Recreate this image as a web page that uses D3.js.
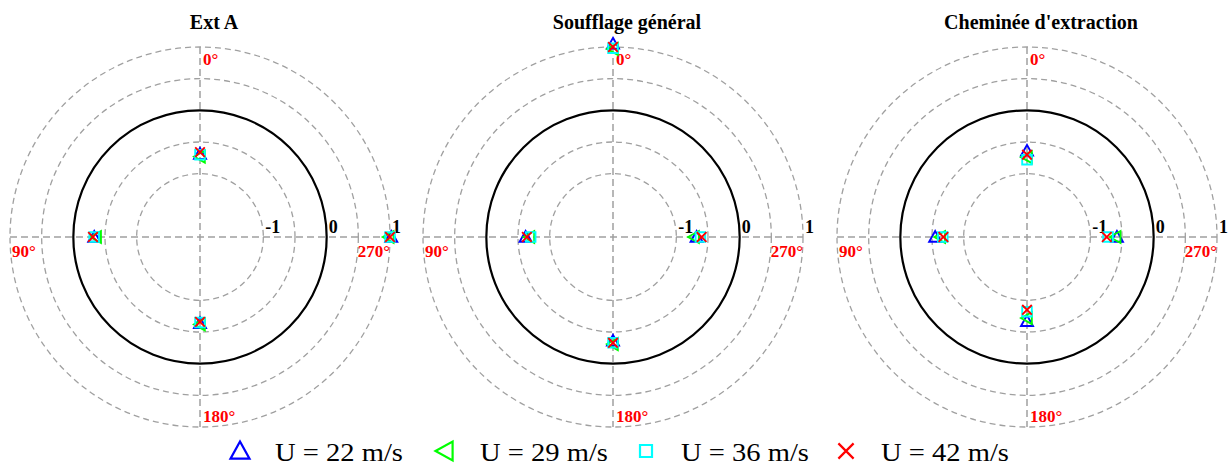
<!DOCTYPE html>
<html>
<head>
<meta charset="utf-8">
<script src="https://cdn.jsdelivr.net/npm/d3@7"></script>
<style>
  html, body { margin: 0; padding: 0; background: #fff; }
  svg { display: block; }
</style>
</head>
<body>
<svg id="chart" width="1229" height="466"></svg>
<script>
// ---------------- DATA ----------------
const panelTitles = ["Ext A", "Soufflage général", "Cheminée d'extraction"];
const angles = [0, 90, 180, 270];               // tap positions (degrees)
const angleLabels = ["0°", "90°", "180°", "270°"];
const seriesNames = ["U = 22 m/s", "U = 29 m/s", "U = 36 m/s", "U = 42 m/s"];
const radialTicks = [-1, 0, 1];
const gridRings = [-1, -0.5, 0, 0.5, 1];

// Cp values at 0°, 90°, 180°, 270°
const extA_22 = [-0.69, -0.33, -0.64, 1.02];
const extA_29 = [-0.73, -0.36, -0.62, 0.98];
const extA_36 = [-0.70, -0.33, -0.65, 1.00];
const extA_42 = [-0.66, -0.31, -0.66, 1.00];

const souf_22 = [1.05, -0.62, -0.36, -0.68];
const souf_29 = [0.97, -0.68, -0.31, -0.72];
const souf_36 = [0.98, -0.70, -0.33, -0.62];
const souf_42 = [1.00, -0.64, -0.33, -0.60];

const chem_22 = [-0.64, -0.55, -0.67, -0.58];
const chem_29 = [-0.74, -0.63, -0.72, -0.60];
const chem_36 = [-0.78, -0.67, -0.82, -0.72];
const chem_42 = [-0.70, -0.68, -0.85, -0.74];

const panelData = [
  [extA_22, extA_29, extA_36, extA_42],
  [souf_22, souf_29, souf_36, souf_42],
  [chem_22, chem_29, chem_36, chem_42]
];

// ---------------- STYLE ----------------
const colors = ["#0000ff", "#00ff00", "#00ffff", "#ff0000"];
const shapes = ["triUp", "triLeft", "square", "cross"];
const centers = [200, 613, 1027];
const cy = 237;
const R = 190;

const svg = d3.select("#chart");
const r = d3.scaleLinear().domain([-2, 1]).range([0, R]);

function markerPath(shape, s) {
  const h = s / 2;
  switch (shape) {
    case "triUp":   return `M0,${-h}L${h},${h*0.8}L${-h},${h*0.8}Z`;
    case "triLeft": return `M${-h},0L${h*0.8},${-h}L${h*0.8},${h}Z`;
    case "square":  return `M${-h*0.8},${-h*0.8}H${h*0.8}V${h*0.8}H${-h*0.8}Z`;
    case "cross":   return `M${-h*0.8},${-h*0.8}L${h*0.8},${h*0.8}M${h*0.8},${-h*0.8}L${-h*0.8},${h*0.8}`;
  }
}

panelData.forEach((series, pi) => {
  const cx = centers[pi];
  const g = svg.append("g").attr("transform", `translate(${cx},${cy})`);

  // grid rings
  g.selectAll("circle.ring").data(gridRings).join("circle")
    .attr("r", d => r(d))
    .attr("fill", "none")
    .attr("stroke", d => d === 0 ? "#000" : "#a0a0a0")
    .attr("stroke-width", d => d === 0 ? 2.2 : 1.3)
    .attr("stroke-dasharray", d => d === 0 ? null : "6,4");

  // crosshair
  g.append("line").attr("x1", 0).attr("x2", 0).attr("y1", -R).attr("y2", R)
    .attr("stroke", "#a0a0a0").attr("stroke-width", 1.5).attr("stroke-dasharray", "7,4");
  g.append("line").attr("y1", 0).attr("y2", 0).attr("x1", -R).attr("x2", R)
    .attr("stroke", "#a0a0a0").attr("stroke-width", 1.5).attr("stroke-dasharray", "7,4");

  // radial tick labels
  g.selectAll("text.rt").data(radialTicks).join("text")
    .attr("x", d => r(d) + 2).attr("y", -4)
    .attr("font-family", "Liberation Serif, Times New Roman, serif")
    .attr("font-weight", "bold").attr("font-size", 18)
    .attr("fill", "#000")
    .text(d => d);

  // angle labels
  const lab = g.append("g")
    .attr("font-family", "Liberation Serif, Times New Roman, serif")
    .attr("font-weight", "bold").attr("font-size", 17).attr("fill", "#ff0000");
  lab.append("text").attr("x", 3).attr("y", -R + 18).text(angleLabels[0]);
  lab.append("text").attr("x", -R + 2).attr("y", 20).text(angleLabels[1]);
  lab.append("text").attr("x", 3).attr("y", R - 5).text(angleLabels[2]);
  lab.append("text").attr("x", R).attr("y", 20).attr("text-anchor", "end").text(angleLabels[3]);

  // markers
  series.forEach((vals, si) => {
    g.append("g").selectAll("path").data(vals.map((v, i) => ({ v, a: angles[i] }))).join("path")
      .attr("transform", d => {
        const t = d.a * Math.PI / 180;
        const rr = r(d.v);
        return `translate(${-rr * Math.sin(t)},${-rr * Math.cos(t)})`;
      })
      .attr("d", markerPath(shapes[si], 12))
      .attr("fill", "none")
      .attr("stroke", colors[si])
      .attr("stroke-width", 1.9);
  });

  // title
  svg.append("text")
    .attr("x", cx + 14).attr("y", 29)
    .attr("text-anchor", "middle")
    .attr("font-family", "Liberation Serif, Times New Roman, serif")
    .attr("font-weight", "bold").attr("font-size", 20)
    .attr("fill", "#000")
    .text(panelTitles[pi]);
});

// legend
const legX = [240, 445, 646, 846];
const leg = svg.append("g");
seriesNames.forEach((name, i) => {
  leg.append("path")
    .attr("transform", `translate(${legX[i]},${451})`)
    .attr("d", markerPath(shapes[i], i === 2 ? 15 : 19))
    .attr("fill", "none").attr("stroke", colors[i]).attr("stroke-width", 2.2);
  leg.append("text")
    .attr("x", legX[i] + 35).attr("y", 461)
    .attr("font-family", "Liberation Serif, Times New Roman, serif")
    .attr("font-size", 26).attr("fill", "#000")
    .attr("textLength", 128).attr("lengthAdjust", "spacingAndGlyphs")
    .text(name);
});
</script>
</body>
</html>
